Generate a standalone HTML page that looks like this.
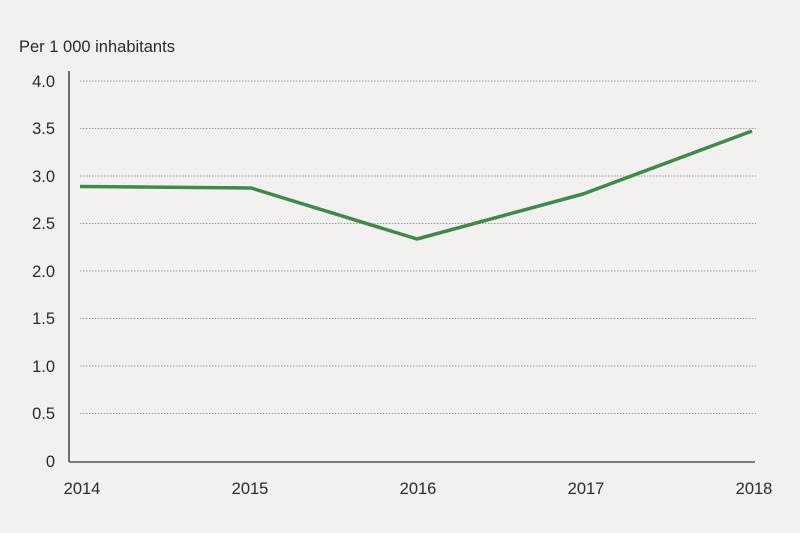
<!DOCTYPE html>
<html><head><style>
html,body{margin:0;padding:0;background:#f3f1ef;}
svg{display:block;font-family:"Liberation Sans",sans-serif;}
</style></head><body>
<svg width="800" height="533" viewBox="0 0 800 533">
<rect width="800" height="533" fill="#f3f1ef"/>
<text x="19" y="52" font-size="16.5" fill="#2a2a2a">Per 1 000 inhabitants</text>
<g stroke="#9a9a9a" stroke-width="1" stroke-dasharray="1.5,1.5">
<line x1="80" x2="756" y1="81" y2="81"/>
<line x1="80" x2="756" y1="128.5" y2="128.5"/>
<line x1="80" x2="756" y1="176" y2="176"/>
<line x1="80" x2="756" y1="223.5" y2="223.5"/>
<line x1="80" x2="756" y1="271" y2="271"/>
<line x1="80" x2="756" y1="318.5" y2="318.5"/>
<line x1="80" x2="756" y1="366" y2="366"/>
<line x1="80" x2="756" y1="413.5" y2="413.5"/>
</g>
<line x1="69" y1="71" x2="69" y2="462" stroke="#444" stroke-width="1.5"/>
<line x1="69" y1="462" x2="755" y2="462" stroke="#555" stroke-width="1.5"/>
<g font-size="16.5" fill="#2a2a2a" text-anchor="end">
<text x="55" y="87">4.0</text>
<text x="55" y="134">3.5</text>
<text x="55" y="182">3.0</text>
<text x="55" y="229">2.5</text>
<text x="55" y="277">2.0</text>
<text x="55" y="324">1.5</text>
<text x="55" y="372">1.0</text>
<text x="55" y="419">0.5</text>
<text x="55" y="467">0</text>
</g>
<g font-size="16.5" fill="#2a2a2a" text-anchor="middle">
<text x="82" y="494">2014</text>
<text x="250" y="494">2015</text>
<text x="418" y="494">2016</text>
<text x="586" y="494">2017</text>
<text x="754" y="494">2018</text>
</g>
<polyline points="80,186.5 251,188 417,239 583,194 752,131" fill="none" stroke="#3f8a4a" stroke-width="3.5" stroke-linejoin="round"/>
</svg>
</body></html>
